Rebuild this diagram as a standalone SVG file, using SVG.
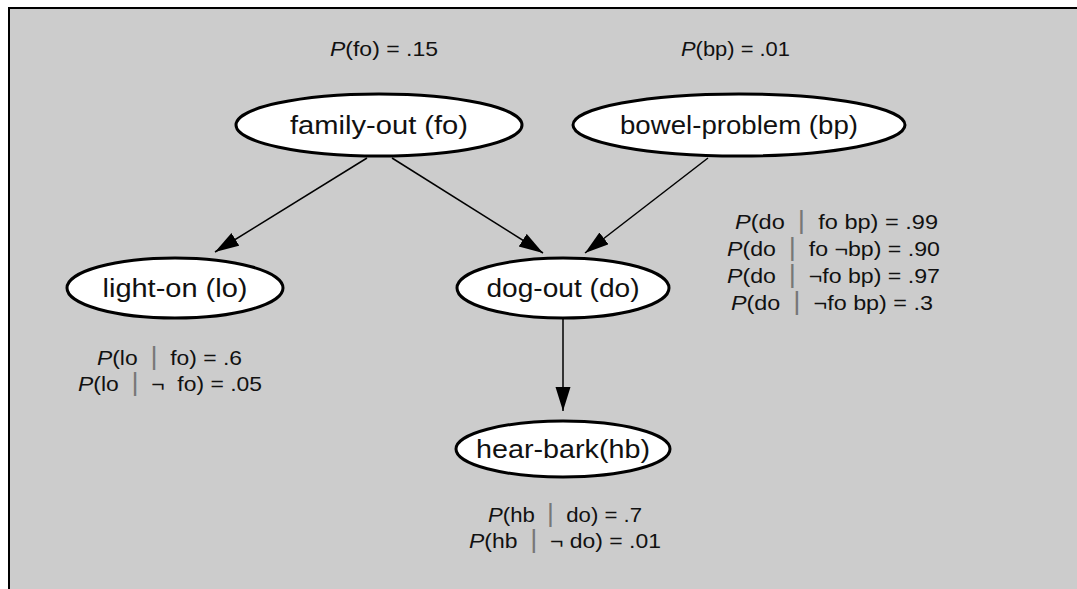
<svg xmlns="http://www.w3.org/2000/svg" width="1077" height="589" viewBox="0 0 1077 589">
<defs>
<style>
.node ellipse{fill:#fff;stroke:#000;stroke-width:3}
.lbl{font-family:"Liberation Sans",Arial,sans-serif;font-size:26px;fill:#111;text-anchor:middle}
.cpt{font-family:"Liberation Sans",Arial,sans-serif;font-size:21px;fill:#111;text-anchor:start}
.it{font-style:italic}
.bar{fill:#777;font-size:25px}
.edge{stroke:#000;stroke-width:1.5;fill:none;marker-end:url(#ah)}
</style>
<marker id="ah" markerUnits="userSpaceOnUse" markerWidth="26" markerHeight="16" refX="24" refY="7.5" orient="auto">
<polygon points="0,0 24,7.5 0,15" fill="#000"/>
</marker>
</defs>
<rect x="0" y="0" width="1077" height="589" fill="#fff"/>
<rect x="9" y="8" width="1080" height="600" fill="#cccccc" stroke="#000" stroke-width="2"/>

<g id="priors">
<text class="cpt" x="330" y="56" textLength="108" lengthAdjust="spacingAndGlyphs"><tspan class="it">P</tspan>(fo) = .15</text>
<text class="cpt" x="681" y="56" textLength="109" lengthAdjust="spacingAndGlyphs"><tspan class="it">P</tspan>(bp) = .01</text>
</g>

<g id="connectors">
<line class="edge" x1="367" y1="158" x2="215" y2="252"/>
<line class="edge" x1="392" y1="158" x2="543" y2="253"/>
<line class="edge" x1="708" y1="158" x2="585" y2="253"/>
<line class="edge" x1="563" y1="318" x2="563" y2="411"/>
</g>

<g id="family-out" class="node">
<ellipse cx="379" cy="125" rx="143" ry="31"/>
<text class="lbl" x="379" y="134" textLength="178" lengthAdjust="spacingAndGlyphs">family-out (fo)</text>
</g>
<g id="bowel-problem" class="node">
<ellipse cx="739" cy="125" rx="166" ry="31"/>
<text class="lbl" x="739" y="134" textLength="238" lengthAdjust="spacingAndGlyphs">bowel-problem (bp)</text>
</g>
<g id="light-on" class="node">
<ellipse cx="175" cy="288" rx="108" ry="30"/>
<text class="lbl" x="175" y="297" textLength="145" lengthAdjust="spacingAndGlyphs">light-on (lo)</text>
</g>
<g id="dog-out" class="node">
<ellipse cx="563" cy="288" rx="106" ry="30"/>
<text class="lbl" x="563" y="297" textLength="153" lengthAdjust="spacingAndGlyphs">dog-out (do)</text>
</g>
<g id="hear-bark" class="node">
<ellipse cx="563" cy="449" rx="107" ry="28"/>
<text class="lbl" x="563" y="458" textLength="174" lengthAdjust="spacingAndGlyphs">hear-bark(hb)</text>
</g>

<g id="cpt-do">
<text class="cpt" x="735" y="229" textLength="203" lengthAdjust="spacingAndGlyphs"><tspan class="it">P</tspan>(do&#160;&#160;<tspan class="bar">|</tspan>&#160;&#160;fo bp) = .99</text>
<text class="cpt" x="727" y="256" textLength="213" lengthAdjust="spacingAndGlyphs"><tspan class="it">P</tspan>(do&#160;&#160;<tspan class="bar">|</tspan>&#160;&#160;fo ¬bp) = .90</text>
<text class="cpt" x="727" y="283" textLength="213" lengthAdjust="spacingAndGlyphs"><tspan class="it">P</tspan>(do&#160;&#160;<tspan class="bar">|</tspan>&#160;&#160;¬fo bp) = .97</text>
<text class="cpt" x="731" y="310" textLength="202" lengthAdjust="spacingAndGlyphs"><tspan class="it">P</tspan>(do&#160;&#160;<tspan class="bar">|</tspan>&#160;&#160;¬fo bp) = .3</text>
</g>
<g id="cpt-lo">
<text class="cpt" x="97" y="365" textLength="145" lengthAdjust="spacingAndGlyphs"><tspan class="it">P</tspan>(lo&#160;&#160;<tspan class="bar">|</tspan>&#160;&#160;fo) = .6</text>
<text class="cpt" x="78" y="391" textLength="184" lengthAdjust="spacingAndGlyphs"><tspan class="it">P</tspan>(lo&#160;&#160;<tspan class="bar">|</tspan>&#160;&#160;¬&#160;&#160;fo) = .05</text>
</g>
<g id="cpt-hb">
<text class="cpt" x="488" y="522" textLength="154" lengthAdjust="spacingAndGlyphs"><tspan class="it">P</tspan>(hb&#160;&#160;<tspan class="bar">|</tspan>&#160;&#160;do) = .7</text>
<text class="cpt" x="469" y="548" textLength="192" lengthAdjust="spacingAndGlyphs"><tspan class="it">P</tspan>(hb&#160;&#160;<tspan class="bar">|</tspan>&#160;&#160;¬ do) = .01</text>
</g>
</svg>
